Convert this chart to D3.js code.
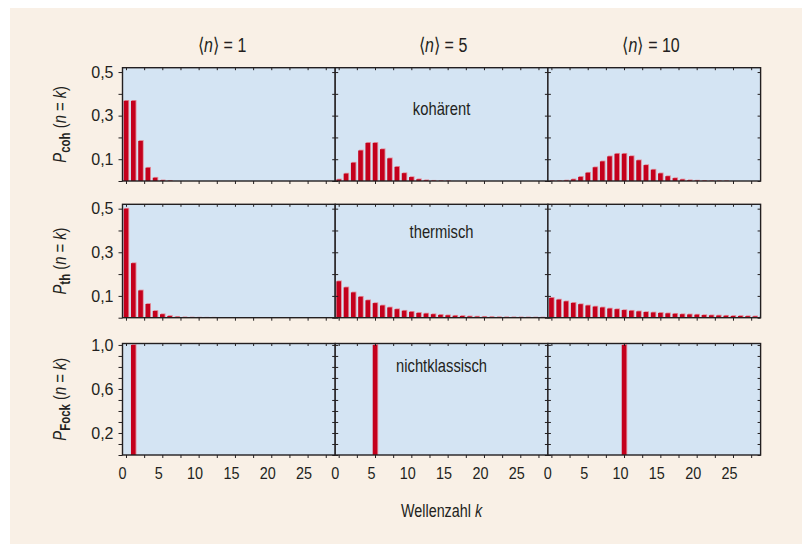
<!DOCTYPE html>
<html><head><meta charset="utf-8">
<script src="https://cdn.jsdelivr.net/npm/d3@7"></script>
<style>
body{margin:0;background:#fff;}
svg{display:block;}
text{font-family:"Liberation Sans",Arial,sans-serif;fill:#231f20;}
</style></head><body>
<div id="chart"></div>
<script>
// ---------- data ----------
const meanPhotonNumbers = ["1", "5", "10"];
const stateLabels = ["kohärent", "thermisch", "nichtklassisch"];
const stateSubscripts = ["coh", "th", "Fock"];
const xAxisTitle = "Wellenzahl";
const xTickValues = [0, 2.5, 5, 7.5, 10, 12.5, 15, 17.5, 20, 22.5, 25, 27.5];
const xTickLabels = ["0", "5", "10", "15", "20", "25"];
const xLabelledTicks = [0, 5, 10, 15, 20, 25];
const yTickValuesP = [0, 0.1, 0.2, 0.3, 0.4, 0.5];
const yLabelledTicksP = [0.1, 0.3, 0.5];
const yTickLabelsP = ["0,1", "0,3", "0,5"];
const yTickValuesFock = [0, 0.1, 0.2, 0.3, 0.4, 0.5, 0.6, 0.7, 0.8, 0.9, 1.0];
const yLabelledTicksFock = [0.2, 0.6, 1.0];
const yTickLabelsFock = ["0,2", "0,6", "1,0"];

// probabilities P(n = k) for k = 0, 1, 2, ...
const coh1 = [0.368, 0.368, 0.184, 0.061, 0.015, 0.003, 0.001];
const coh5 = [0.007, 0.034, 0.084, 0.140, 0.175, 0.175, 0.146, 0.104, 0.065, 0.036, 0.018, 0.008, 0.0035, 0.0013, 0.0005, 0.0002];
const coh10 = [0.0001, 0.0005, 0.0023, 0.0076, 0.019, 0.038, 0.063, 0.090, 0.113, 0.125, 0.125, 0.114, 0.095, 0.073, 0.052, 0.035, 0.022, 0.013, 0.007, 0.0037, 0.0019, 0.0009, 0.0004, 0.0002, 0.0001];
const th1 = [0.5, 0.25, 0.125, 0.063, 0.031, 0.016, 0.008, 0.004, 0.002, 0.001, 0.0005, 0.0002, 0.0001];
const th5 = [0.167, 0.139, 0.116, 0.096, 0.080, 0.067, 0.056, 0.047, 0.039, 0.032, 0.027, 0.022, 0.019, 0.016, 0.013, 0.011, 0.009, 0.008, 0.006, 0.005, 0.0043, 0.0036, 0.003, 0.0025, 0.0021, 0.0017, 0.0015, 0.0012, 0.001, 0.0008];
const th10 = [0.091, 0.083, 0.075, 0.068, 0.062, 0.056, 0.051, 0.047, 0.042, 0.039, 0.035, 0.032, 0.029, 0.026, 0.024, 0.022, 0.020, 0.018, 0.016, 0.015, 0.014, 0.012, 0.011, 0.010, 0.009, 0.008, 0.008, 0.007, 0.006, 0.006];
const fock1 = [0, 1.0];
const fock5 = [0, 0, 0, 0, 0, 1.0];
const fock10 = [0, 0, 0, 0, 0, 0, 0, 0, 0, 0, 1.0];

const seriesGrid = [[coh1, coh5, coh10], [th1, th5, th10], [fock1, fock5, fock10]];

// ---------- layout ----------
const W = 802, H = 544;
const colLeft0 = 122.5, colW = 212.7;
const rowTops = [67.7, 204.3, 343.5];
const rowBottoms = [181, 317.7, 455];
const yMax = [0.52, 0.52, 1.013];
const xDomain = [-0.48, 28.8];
const barW = 4.6;
const colTitleX = [222, 443, 651];
const stateLabelY = [115, 238, 371.5];
const ink = "#231f20";
const red = "#c4001c", pink = "#e28c99";
const panelFill = "#d4e4f3", beige = "#f9f0e6";
const NARROW = 0.82; // horizontal squeeze to mimic a condensed face

const svg = d3.select("#chart").append("svg").attr("width", W).attr("height", H);
svg.append("rect").attr("width", W).attr("height", H).attr("fill", "#fff");
svg.append("rect").attr("x", 10).attr("y", 8).attr("width", W - 10).attr("height", H - 8).attr("fill", beige);

const defs = svg.append("defs");

function narrowText(parent, x, y, size, anchor, rotate) {
  const g = parent.append("g").attr("transform",
    `translate(${x},${y})` + (rotate ? ` rotate(${rotate})` : "") + ` scale(${NARROW},1)`);
  return g.append("text").attr("text-anchor", anchor || "middle").attr("font-size", size);
}

function styleAxis(sel) {
  sel.select(".domain").remove();
  sel.selectAll("line").attr("stroke", ink).attr("stroke-width", 1);
  sel.selectAll("text").attr("fill", ink);
}

seriesGrid.forEach((row, ri) => {
  row.forEach((series, ci) => {
    const left = colLeft0 + ci * colW, top = rowTops[ri], h = rowBottoms[ri] - rowTops[ri];
    const g = svg.append("g").attr("transform", `translate(${left},${top})`);
    const x = d3.scaleLinear().domain(xDomain).range([0, colW]);
    const y = d3.scaleLinear().domain([0, yMax[ri]]).range([h, 0]);
    const id = `clip-${ri}-${ci}`;
    defs.append("clipPath").attr("id", id).append("rect").attr("width", colW).attr("height", h);

    g.append("rect").attr("width", colW).attr("height", h).attr("fill", panelFill);

    const bars = series.map((p, k) => ({ k, p })).filter(d => d.p > 0);
    const bg = g.append("g").attr("clip-path", `url(#${id})`);
    bg.selectAll("rect.shadow").data(bars).join("rect").attr("class", "shadow")
      .attr("x", d => x(d.k) - barW / 2 + 0.9).attr("y", d => y(d.p) - 0.8)
      .attr("width", barW).attr("height", d => h - y(d.p) + 0.8).attr("fill", pink);
    bg.selectAll("rect.bar").data(bars).join("rect").attr("class", "bar")
      .attr("x", d => x(d.k) - barW / 2).attr("y", d => y(d.p))
      .attr("width", barW).attr("height", d => h - y(d.p)).attr("fill", red);

    const yTicks = ri < 2 ? yTickValuesP : yTickValuesFock;
    const yLab = ri < 2 ? yLabelledTicksP : yLabelledTicksFock;
    const yLabTxt = ri < 2 ? yTickLabelsP : yTickLabelsFock;
    const yFmt = v => {
      const i = yLab.findIndex(t => Math.abs(t - v) < 1e-9);
      return i >= 0 ? yLabTxt[i] : "";
    };

    // left axis
    if (ci === 0) {
      const ax = g.append("g").call(d3.axisLeft(y).tickValues(yTicks).tickSize(4).tickPadding(5).tickFormat(yFmt));
      styleAxis(ax);
      ax.selectAll("text").attr("font-size", 16);
    } else {
      const ax = g.append("g").call(d3.axisRight(y).tickValues(yTicks).tickSize(3).tickFormat(""));
      styleAxis(ax);
    }
    // right axis (inward)
    const axR = g.append("g").attr("transform", `translate(${colW},0)`)
      .call(d3.axisLeft(y).tickValues(yTicks).tickSize(3).tickFormat(""));
    styleAxis(axR);
    // top axis (inward)
    const axT = g.append("g").call(d3.axisBottom(x).tickValues(xTickValues).tickSize(2.5).tickFormat(""));
    styleAxis(axT);
    // bottom axis (outward)
    const xFmt = v => {
      const i = xLabelledTicks.indexOf(v);
      return (ri === 2 && i >= 0) ? xTickLabels[i] : "";
    };
    const axB = g.append("g").attr("transform", `translate(0,${h})`)
      .call(d3.axisBottom(x).tickValues(xTickValues).tickSize(3).tickFormat(xFmt));
    styleAxis(axB);
    axB.selectAll("text").attr("font-size", 16).attr("x", -4.5).attr("y", 12.7)
      .attr("transform", "scale(0.9,1)");

    // frame
    g.append("rect").attr("width", colW).attr("height", h)
      .attr("fill", "none").attr("stroke", ink).attr("stroke-width", 1.4);
  });
});

// column titles  ⟨n⟩ = N
meanPhotonNumbers.forEach((n, ci) => {
  const t = narrowText(svg, colTitleX[ci], 52, 19.5, "middle");
  t.append("tspan").text("\u27E8");
  t.append("tspan").attr("font-style", "italic").text("n");
  t.append("tspan").text("\u27E9 = " + n);
});

// state labels inside the middle column
stateLabels.forEach((s, ri) => {
  narrowText(svg, colLeft0 + 1.5 * colW, stateLabelY[ri], 18, "middle").text(s);
});

// y axis titles  P_sub (n = k)
stateSubscripts.forEach((sub, ri) => {
  const cy = (rowTops[ri] + rowBottoms[ri]) / 2;
  const t = svg.append("g").attr("transform", `translate(66,${cy}) rotate(-90) scale(${NARROW},1)`)
    .append("text").attr("text-anchor", "middle").attr("font-size", 18);
  t.append("tspan").attr("font-style", "italic").text("P");
  t.append("tspan").attr("font-weight", "bold").attr("font-size", 14).attr("dy", 4).text(sub);
  t.append("tspan").attr("dy", -4).text(" (");
  t.append("tspan").attr("font-style", "italic").text("n");
  t.append("tspan").text(" = ");
  t.append("tspan").attr("font-style", "italic").text("k");
  t.append("tspan").text(")");
});

// x axis title
const xt = narrowText(svg, colLeft0 + 1.5 * colW, 517, 17.5, "middle");
xt.append("tspan").text(xAxisTitle + " ");
xt.append("tspan").attr("font-style", "italic").text("k");
</script>
</body></html>
